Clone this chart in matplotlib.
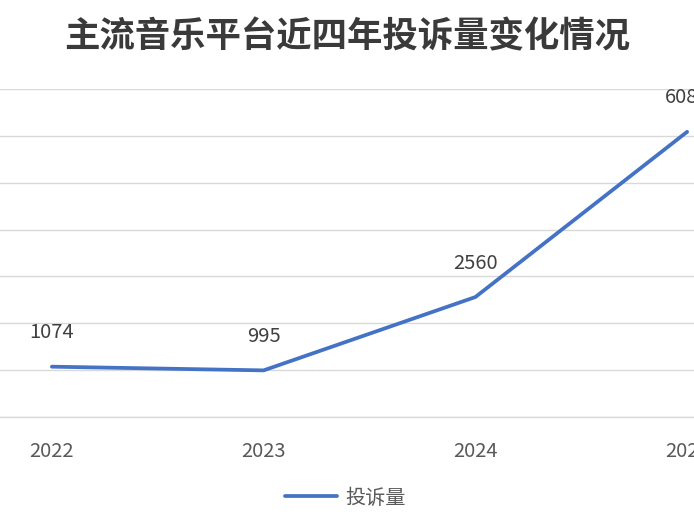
import matplotlib.pyplot as plt

plt.rcParams['font.family'] = ['Noto Sans CJK SC', 'DejaVu Sans']

years = ['2022', '2023', '2024', '2025']
complaints = [1074, 995, 2560, 6086]
series_name = '投诉量'
title = '主流音乐平台近四年投诉量变化情况'

W, H = 694, 532
fig = plt.figure(figsize=(W / 100, H / 100), dpi=100)
# axes wider than the figure: the reference is a crop of a bigger chart
left_px, right_px = 52 - 106, 687 + 106
bottom_px, top_px = H - 417, H - 89
ax = fig.add_axes([left_px / W, bottom_px / H, (right_px - left_px) / W, (top_px - bottom_px) / H])

x = list(range(len(years)))
ax.plot(x, complaints, color='#4472C4', lw=2.7, solid_capstyle='round',
        solid_joinstyle='round', label=series_name, zorder=3)

for xi, v in zip(x, complaints):
    ax.annotate(str(v), (xi, v), xytext=(0, 34), textcoords='offset pixels',
                ha='center', va='center', fontsize=14.5, color='#404040',
                annotation_clip=False)

ax.set_xlim(-0.5, len(years) - 0.5)
ax.set_ylim(0, 7000)
ax.set_yticks(range(0, 7001, 1000))
ax.set_yticklabels([])
ax.set_xticks(x)
ax.set_xticklabels(years, fontsize=14.5, color='#595959')
ax.tick_params(axis='both', length=0)
ax.tick_params(axis='x', pad=17)
ax.grid(axis='y', color='#D9D9D9', lw=1)
ax.set_axisbelow(True)
for side in ['top', 'right', 'left']:
    ax.spines[side].set_visible(False)
ax.spines['bottom'].set_color('#D9D9D9')
ax.spines['bottom'].set_linewidth(1)

fig.text(0.5, 1 - 37 / H, title, ha='center', va='center', fontsize=25.5,
         fontweight='bold', color='#3a3a3a')

fig.legend(loc='center', bbox_to_anchor=(345 / W, 1 - 498 / H), frameon=False,
           fontsize=14.5, labelcolor='#595959', handlelength=2.6, handletextpad=0.4)

fig.savefig('out.png', dpi=100)
